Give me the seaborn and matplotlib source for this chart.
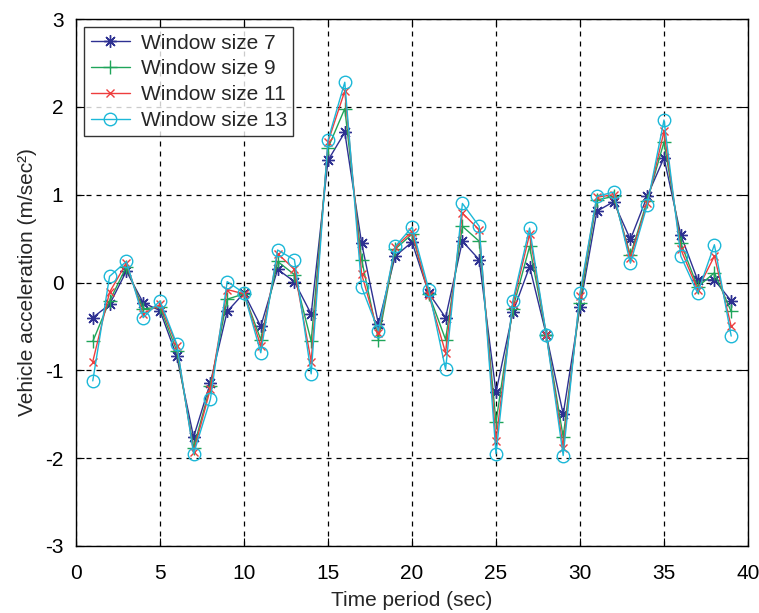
import numpy as np
import pandas as pd
import matplotlib
matplotlib.use("Agg")
import matplotlib.pyplot as plt
import seaborn as sns

time = list(range(1, 40))
w7 = [-0.40, -0.25, 0.13, -0.23, -0.32, -0.84, -1.76, -1.14, -0.33, -0.12,
      -0.50, 0.15, 0.01, -0.36, 1.39, 1.71, 0.45, -0.47, 0.30, 0.46,
      -0.12, -0.40, 0.47, 0.26, -1.25, -0.34, 0.18, -0.60, -1.50, -0.28,
      0.81, 0.92, 0.49, 0.98, 1.42, 0.54, 0.03, 0.03, -0.21]
w9 = [-0.67, -0.21, 0.18, -0.30, -0.28, -0.78, -1.88, -1.18, -0.19, -0.13,
      -0.65, 0.24, 0.09, -0.67, 1.53, 1.98, 0.26, -0.65, 0.38, 0.55,
      -0.13, -0.65, 0.64, 0.47, -1.59, -0.30, 0.41, -0.60, -1.76, -0.23,
      0.94, 0.98, 0.31, 0.93, 1.60, 0.45, -0.05, 0.11, -0.33]
w11 = [-0.90, -0.11, 0.22, -0.36, -0.25, -0.72, -1.93, -1.21, -0.08, -0.13,
       -0.72, 0.33, 0.15, -0.90, 1.60, 2.18, 0.10, -0.58, 0.40, 0.58,
       -0.14, -0.80, 0.79, 0.60, -1.80, -0.25, 0.55, -0.60, -1.88, -0.15,
       0.97, 1.00, 0.28, 0.90, 1.72, 0.38, -0.08, 0.30, -0.50]
w13 = [-1.12, 0.07, 0.24, -0.40, -0.21, -0.70, -1.95, -1.33, 0.01, -0.12,
       -0.80, 0.37, 0.26, -1.04, 1.62, 2.28, -0.05, -0.55, 0.41, 0.63,
       -0.08, -0.99, 0.90, 0.64, -1.95, -0.21, 0.62, -0.60, -1.97, -0.12,
       0.98, 1.03, 0.22, 0.88, 1.85, 0.30, -0.12, 0.43, -0.61]

labels = ["Window size 7", "Window size 9", "Window size 11", "Window size 13"]
series = [w7, w9, w11, w13]
colors = ["#2e3192", "#1fa55a", "#ee3d3d", "#1cb8d8"]
markers = [(8, 2, 0), "+", "x", "o"]
msizes = [9, 10, 6, 9]

sns.set_theme(style="white")
plt.rcParams["font.family"] = ["Liberation Sans", "DejaVu Sans"]
plt.rcParams["axes.unicode_minus"] = False

fig = plt.figure(figsize=(7.59, 6.13), dpi=100)
ax = fig.add_axes([0.1001, 0.1093, 0.8854, 0.8597])

for lab, vals, c, m, ms in zip(labels, series, colors, markers, msizes):
    df = pd.DataFrame({"t": time, "a": vals})
    kw = dict(marker=m, markersize=ms, color=c, linewidth=1.0, label=lab)
    if m == "o":
        kw.update(markerfacecolor="none", markeredgecolor=c, markeredgewidth=1.0)
    else:
        kw.update(markeredgecolor=c, markeredgewidth=1.0)
    sns.lineplot(data=df, x="t", y="a", ax=ax, **kw)

ax.set_xlim(0, 40)
ax.set_ylim(-3, 3)
ax.set_xticks(range(0, 41, 5))
ax.set_yticks(range(-3, 4))
ax.grid(True, color="black", linestyle=(0, (4, 4)), linewidth=0.9)
ax.tick_params(direction="in", length=6, width=0.8, labelsize=15, colors="black",
               top=True, right=True, bottom=True, left=True)
ax.tick_params(axis="x", pad=13)
ax.tick_params(axis="y", pad=9)
for s in ax.spines.values():
    s.set_color("black")
    s.set_linewidth(1.0)
ax.set_xlabel("Time period (sec)", fontsize=15, labelpad=6)
ax.set_ylabel("Vehicle acceleration (m/sec²)", fontsize=15, labelpad=6)

leg = ax.legend(loc="upper left", fontsize=15, frameon=True, fancybox=False,
                edgecolor="black", borderaxespad=0.4, handlelength=1.9,
                labelspacing=0.33, borderpad=0.3, handletextpad=0.5)
leg.get_frame().set_linewidth(1.0)

fig.savefig("out.png", dpi=100)
